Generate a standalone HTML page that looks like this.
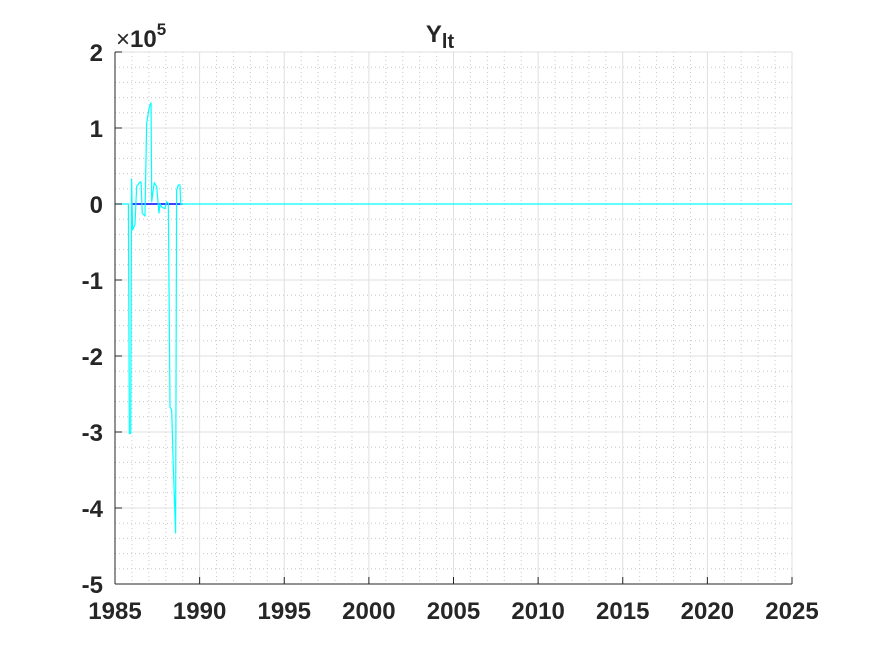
<!DOCTYPE html>
<html><head><meta charset="utf-8"><style>
body{margin:0;background:#fff}
svg{display:block;font-family:"Liberation Sans",Arial,sans-serif}
</style></head><body>
<svg id="chart" width="875" height="656" viewBox="0 0 875 656" xmlns="http://www.w3.org/2000/svg">
<rect width="875" height="656" fill="#fff"/>
<g id="grid"></g>
<g id="series"></g>
<g id="axes"></g>
<text x="440" y="42" font-size="24" font-weight="bold" fill="#262626" text-anchor="middle">Y<tspan font-size="20" dy="6">lt</tspan></text>
<text x="116" y="47" font-size="24" fill="#262626">×<tspan font-weight="bold">10</tspan><tspan font-size="17" font-weight="bold" dy="-12">5</tspan></text>
</svg>
<script>
const xTicks=[1985,1990,1995,2000,2005,2010,2015,2020,2025];
const yTicks=[2,1,0,-1,-2,-3,-4,-5];
const yearsCyan=[1985,1985.79,1985.85,1985.93,1985.98,1986.04,1986.18,1986.28,1986.48,1986.54,1986.61,1986.77,1986.87,1987.03,1987.13,1987.17,1987.32,1987.46,1987.60,1987.66,1987.76,1987.95,1988.05,1988.15,1988.25,1988.35,1988.45,1988.58,1988.64,1988.74,1988.84,1988.88,2025];
const valuesCyan=[0,0,-3.02,-3.02,0.33,-0.34,-0.27,0.23,0.29,0.29,-0.12,-0.16,1.06,1.28,1.33,0.03,0.28,0.23,-0.12,0.0,-0.04,-0.06,0.03,0.01,-2.67,-2.71,-3.5,-4.33,0.18,0.25,0.25,0,0];
const yearsBlue=[1986.0,1989.0];
const valuesBlue=[0,0];
const L=115,R=792,T=52,B=584,X0=1985,X1=2025,Y0=-5,Y1=2;
const sx=v=>L+(v-X0)/(X1-X0)*(R-L);
const sy=v=>B-(v-Y0)/(Y1-Y0)*(B-T);
const NS="http://www.w3.org/2000/svg";
function mk(tag,attrs,parent){const e=document.createElementNS(NS,tag);for(const k in attrs)e.setAttribute(k,attrs[k]);parent.appendChild(e);return e;}
const grid=document.getElementById('grid'),axes=document.getElementById('axes'),series=document.getElementById('series');
for(let y=X0;y<=X1;y++){if(y%5){const l=mk('line',{x1:sx(y),x2:sx(y),y1:T,y2:B,stroke:'#c8c8c8','stroke-dasharray':'1 3','stroke-width':1},grid);

}}
for(let i=0;i<=35;i++){const v=Y0+i*0.2;if(i%5){const l=mk('line',{x1:L,x2:R,y1:sy(v),y2:sy(v),stroke:'#c8c8c8','stroke-dasharray':'1 3','stroke-width':1},grid);

}}
xTicks.forEach(t=>{const l=mk('line',{x1:sx(t),x2:sx(t),y1:T,y2:B,stroke:'#dfdfdf','stroke-width':1},grid);


const tk=mk('line',{x1:sx(t),x2:sx(t),y1:B,y2:B-7,stroke:'#262626'},axes);


const tx=mk('text',{x:sx(t),y:B+35,'font-size':24,'font-weight':'bold',fill:'#262626','text-anchor':'middle'},axes);tx.textContent=t;

});
yTicks.forEach(t=>{const l=mk('line',{x1:L,x2:R,y1:sy(t),y2:sy(t),stroke:'#dfdfdf','stroke-width':1},grid);


const tk=mk('line',{x1:L,x2:L+7,y1:sy(t),y2:sy(t),stroke:'#262626'},axes);


const tx=mk('text',{x:L-12,y:sy(t)+9,'font-size':24,'font-weight':'bold',fill:'#262626','text-anchor':'end'},axes);tx.textContent=t;

});
const pb=mk('polyline',{points:yearsBlue.map((y,i)=>sx(y)+','+sy(valuesBlue[i])).join(' '),fill:'none',stroke:'#0000ff','stroke-width':1.5},series);


const pc=mk('polyline',{points:yearsCyan.map((y,i)=>sx(y)+','+sy(valuesCyan[i])).join(' '),fill:'none',stroke:'#00ffff','stroke-width':1.2,'stroke-linejoin':'round'},series);


const ax1=mk('line',{x1:L,x2:L,y1:T,y2:B,stroke:'#262626'},axes);


const ax2=mk('line',{x1:L,x2:R,y1:B,y2:B,stroke:'#262626'},axes);


</script>
</body></html>
